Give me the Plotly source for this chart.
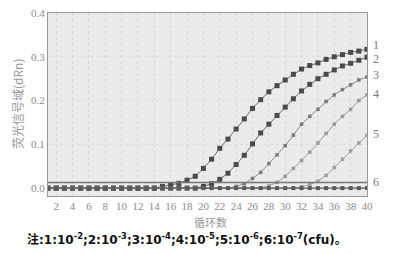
import plotly.graph_objects as go

cycles = list(range(1, 41))

s1 = [0.0]*14 + [0.004, 0.007, 0.011, 0.018, 0.027, 0.045, 0.066, 0.091, 0.112, 0.135,
                 0.158, 0.182, 0.202, 0.220, 0.234, 0.247, 0.260, 0.272, 0.280, 0.286,
                 0.294, 0.300, 0.305, 0.310, 0.313, 0.317]
s2 = [0.0]*19 + [0.004, 0.010, 0.020, 0.034, 0.054, 0.075, 0.101, 0.126, 0.146, 0.166,
                 0.185, 0.204, 0.222, 0.237, 0.250, 0.260, 0.270, 0.279, 0.285, 0.292, 0.299]
s3 = [0.0]*23 + [0.004, 0.010, 0.022, 0.036, 0.056, 0.076, 0.097, 0.121, 0.146, 0.164,
                 0.180, 0.198, 0.213, 0.225, 0.236, 0.247, 0.254]
s4 = [0.0]*27 + [0.005, 0.013, 0.027, 0.045, 0.063, 0.082, 0.103, 0.125, 0.146, 0.164,
                 0.180, 0.200, 0.213]
s5 = [0.0]*31 + [0.003, 0.008, 0.016, 0.029, 0.047, 0.066, 0.085, 0.103, 0.121]
s6 = [0.0]*40
threshold = 0.013

series = [s1, s2, s3, s4, s5, s6]
series_names = ["1", "2", "3", "4", "5", "6"]
label_y = [0.326, 0.296, 0.258, 0.216, 0.124, 0.013]
x_ticks = list(range(2, 41, 2))
y_ticks = [0.0, 0.1, 0.2, 0.3, 0.4]
y_tick_text = ["0.0", "0.1", "0.2", "0.3", "0.4"]

caption = ("<b>注:1:10<sup>-2</sup>;2:10<sup>-3</sup>;3:10<sup>-4</sup>;4:10<sup>-5</sup>;"
           "5:10<sup>-6</sup>;6:10<sup>-7</sup>(cfu)。</b>")
x_title = "循环数"
y_title = "荧光信号域(dRn)"

styles = [
    dict(line=dict(color="#6a6a6a", width=1), marker=dict(color="#4a4a4a", size=5, symbol="square")),
    dict(line=dict(color="#6a6a6a", width=1), marker=dict(color="#4a4a4a", size=5, symbol="square")),
    dict(line=dict(color="#8a8a8a", width=1), marker=dict(color="#7a7a7a", size=3.5, symbol="square")),
    dict(line=dict(color="#9a9a9a", width=1), marker=dict(color="#9a9a9a", size=3.5, symbol="square")),
    dict(line=dict(color="#a0a0a0", width=1), marker=dict(color="#a0a0a0", size=3.5, symbol="square")),
    dict(line=dict(color="#5a5a5a", width=1.2), marker=dict(color="#5a5a5a", size=4, symbol="square")),
]

fig = go.Figure()
for vals, name, st in zip(series, series_names, styles):
    fig.add_trace(go.Scatter(x=cycles, y=vals, mode="lines+markers", name=name,
                             line=st["line"], marker=st["marker"], showlegend=False))
fig.add_trace(go.Scatter(x=[cycles[0], cycles[-1]], y=[threshold, threshold], mode="lines",
                         line=dict(color="#777777", width=1.5), showlegend=False))

serif = "Liberation Serif, DejaVu Serif, serif"
for name, ly in zip(series_names, label_y):
    fig.add_annotation(x=1, xref="paper", y=ly, yref="y", text=name, showarrow=False,
                       xanchor="left", yanchor="middle", xshift=4,
                       font=dict(family=serif, size=12, color="#777777"))

# plot area spans page pixels x 48..367, y 13..196 (page has an 8px body offset)
PL, PR, PT, PB = 48, 367, 13, 196
def px(x):
    return (x - PL) / (PR - PL)
def py(y):
    return (PB - y) / (PB - PT)

fig.add_annotation(x=px(210), y=py(222), xref="paper", yref="paper",
                   xanchor="center", yanchor="middle", text=x_title, showarrow=False,
                   font=dict(family="Noto Sans CJK SC", size=11, color="#999999"))
fig.add_annotation(x=px(17), y=py(104), xref="paper", yref="paper",
                   xanchor="center", yanchor="middle", text=y_title, textangle=-90,
                   showarrow=False,
                   font=dict(family="Noto Sans CJK SC", size=12, color="#999999"))
fig.add_annotation(x=px(187), y=py(239), xref="paper", yref="paper",
                   xanchor="center", yanchor="middle", text=caption, showarrow=False,
                   font=dict(family="DejaVu Sans, Noto Sans CJK SC", size=12, color="#111111"))

fig.update_layout(
    width=406, height=246,
    margin=dict(l=40, r=47, t=5, b=58),
    paper_bgcolor="white", plot_bgcolor="#ebebeb",
    xaxis=dict(range=[1, 40], tickvals=x_ticks, showgrid=True, gridcolor="#d6d6d6",
               griddash="dot", zeroline=False, showline=True, linecolor="#999999", mirror=True,
               ticks="", automargin=False, ticklabeloverflow="allow",
               tickfont=dict(family=serif, size=11, color="#8a8a8a")),
    yaxis=dict(range=[-0.018, 0.4], tickvals=y_ticks, ticktext=y_tick_text, showgrid=True,
               gridcolor="#dcdcdc", griddash="dot", zeroline=False, showline=True,
               linecolor="#999999", mirror=True, ticks="", automargin=False,
               ticklabeloverflow="allow",
               tickfont=dict(family=serif, size=11, color="#8a8a8a")),
)

fig.write_html("out.html")
